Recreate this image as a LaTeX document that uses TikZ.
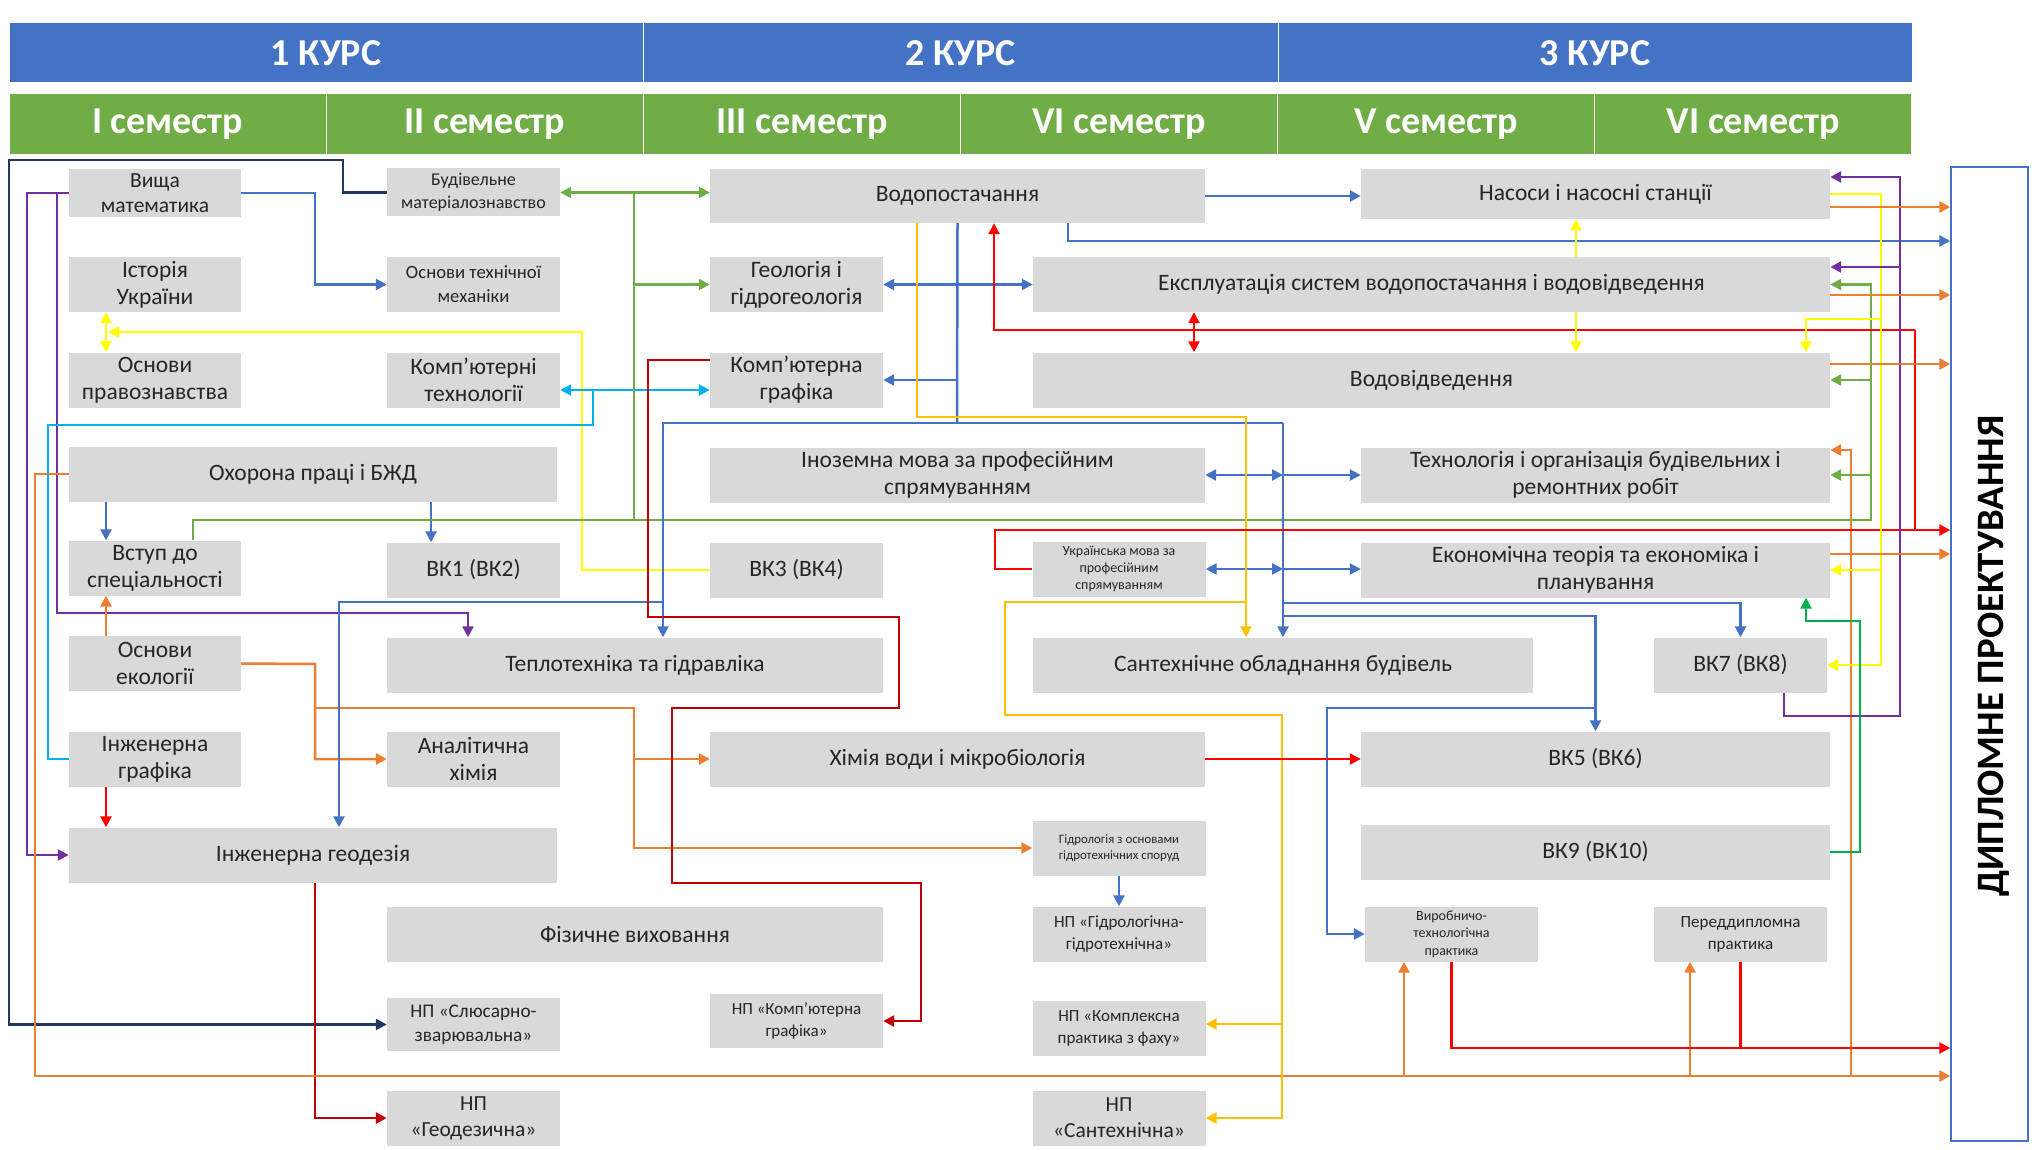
\documentclass[tikz,border=0pt]{standalone}
\usepackage{fontspec}
\setmainfont{Carlito}
\usetikzlibrary{arrows.meta}

\definecolor{cblue}{HTML}{4472C4}
\definecolor{cnavy}{HTML}{1F3864}
\definecolor{cpurple}{HTML}{7030A0}
\definecolor{cgreen}{HTML}{70AD47}
\definecolor{cyellow}{HTML}{FFFF00}
\definecolor{corange}{HTML}{ED7D31}
\definecolor{cred}{HTML}{FF0000}
\definecolor{cdred}{HTML}{C00000}
\definecolor{clblue}{HTML}{00B0F0}
\definecolor{cgold}{HTML}{FFC000}
\definecolor{cbgreen}{HTML}{00B050}
\definecolor{boxgray}{HTML}{D9D9D9}
\definecolor{txt}{HTML}{262626}

\newcommand\fsz[2]{\fontsize{#1}{#2}\selectfont}

\tikzset{
  box/.style={fill=boxgray, text=txt, align=center, inner sep=0pt,
    minimum height=55pt, font=\fsz{23.5}{27}},
  nar/.style={minimum width=173pt},
  kurs/.style={fill=cblue, draw=white, line width=1pt, text=white,
    inner sep=0pt, minimum height=60pt, font=\fsz{38}{42}\bfseries},
  sem/.style={kurs, fill=cgreen, minimum width=317pt, minimum height=61pt},
  con/.style={line width=2.5pt},
  >={Triangle[length=11pt,width=11pt]}
}

\begin{document}
\begin{tikzpicture}[x=1pt,y=-1pt]
\useasboundingbox (0,0) rectangle (2042,1150);

% header
\node[kurs, minimum width=634pt] (k1) at (326,53) {1 КУРС};
\node[kurs, minimum width=635pt] (k2) at (960.5,53) {2 КУРС};
\node[kurs, minimum width=634pt] (k3) at (1595,53) {3 КУРС};
\foreach \s [count=\i] in {I семестр, II семестр, III семестр, VI семестр, V семестр, VI семестр}
  \node[sem] (s\i) at ({9+317.17*\i-158.58},124.5) {\s};

% I semester
\node[box, minimum width=172pt, minimum height=48pt, font=\fsz{21.5}{25}] (vm) at (155,193) {Вища\\математика};
\node[box, minimum width=172pt] (iu) at (155,284.5) {Історія\\України};
\node[box, minimum width=172pt] (op) at (155,380) {Основи\\правознавства};
\node[box, minimum width=488pt] (ohp) at (313,474) {Охорона праці і БЖД};
\node[box, minimum width=172pt] (vs) at (155,568) {Вступ до\\спеціальності};
\node[box, minimum width=172pt] (oe) at (155,663.5) {Основи\\екології};
\node[box, minimum width=172pt] (ig) at (155,759) {Інженерна\\графіка};
\node[box, minimum width=488pt] (igeo) at (313,855) {Інженерна геодезія};

% II semester
\node[box, nar, minimum height=48pt, font=\fsz{18}{23}] (bm) at (473.5,192.5) {Будівельне\\матеріалознавство};
\node[box, nar, font=\fsz{18.7}{24}] (otm) at (473.5,284.5) {Основи технічної\\механіки};
\node[box, nar] (kt) at (473.5,380) {Комп’ютерні\\технології};
\node[box, nar] (vk1) at (473.5,570) {ВК1 (ВК2)};
\node[box, minimum width=496pt] (tg) at (635,665) {Теплотехніка та гідравліка};
\node[box, nar] (ah) at (473.5,759) {Аналітична\\хімія};
\node[box, minimum width=496pt] (fv) at (635,934) {Фізичне виховання};
\node[box, nar, minimum height=53pt, font=\fsz{19.3}{24}] (nps) at (473.5,1024.5) {НП «Слюсарно-\\зварювальна»};
\node[box, nar, font=\fsz{21.5}{26}] (npg) at (473.5,1118) {НП\\«Геодезична»};

% III semester
\node[box, minimum width=495pt, minimum height=54pt] (vp) at (957.5,196) {Водопостачання};
\node[box, nar] (gg) at (796.5,284.5) {Геологія і\\гідрогеологія};
\node[box, nar] (kg) at (796.5,380) {Комп’ютерна\\графіка};
\node[box, minimum width=495pt] (im) at (957.5,475) {Іноземна мова за професійним\\спрямуванням};
\node[box, nar] (vk3) at (796.5,570) {ВК3 (ВК4)};
\node[box, minimum width=495pt] (hv) at (957.5,759) {Хімія води і мікробіологія};
\node[box, nar, minimum height=54pt, font=\fsz{17}{22}] (npkg) at (796.5,1021) {НП «Комп’ютерна\\графіка»};

% IV semester
\node[box, minimum width=797pt] (es) at (1431.5,284.5) {Експлуатація систем водопостачання і водовідведення};
\node[box, minimum width=797pt] (vv) at (1431.5,380) {Водовідведення};
\node[box, nar, font=\fsz{14}{17}] (um) at (1119,569) {Українська мова за\\професійним\\спрямуванням};
\node[box, nar, font=\fsz{12.8}{16}] (gid) at (1119,848) {Гідрологія з основами\\гідротехнічних споруд};
\node[box, minimum width=500pt] (so) at (1283,665) {Сантехнічне обладнання будівель};
\node[box, nar, font=\fsz{17}{22}] (npgg) at (1119,934) {НП «Гідрологічна-\\гідротехнічна»};
\node[box, nar, font=\fsz{17}{22}] (npkp) at (1119,1028) {НП «Комплексна\\практика з фаху»};
\node[box, nar, font=\fsz{21.5}{26}] (npsan) at (1119,1118) {НП\\«Сантехнічна»};

% V-VI semester
\node[box, minimum width=469pt, minimum height=50pt] (ns) at (1595.5,194) {Насоси і насосні станції};
\node[box, minimum width=469pt] (to) at (1595.5,475) {Технологія і організація будівельних і\\ремонтних робіт};
\node[box, minimum width=469pt] (et) at (1595.5,570) {Економічна теорія та економіка і\\планування};
\node[box, nar] (vk7) at (1740.5,665) {ВК7 (ВК8)};
\node[box, minimum width=469pt] (vk5) at (1595.5,759) {ВК5 (ВК6)};
\node[box, minimum width=469pt] (vk9) at (1595.5,852) {ВК9 (ВК10)};
\node[box, nar, font=\fsz{14}{17.5}] (vtp) at (1451.5,934) {Виробничо-\\технологічна\\практика};
\node[box, nar, font=\fsz{17}{22}] (pdp) at (1740.5,934) {Переддипломна\\практика};

\node[draw=cblue, line width=1.5pt, inner sep=0pt, minimum width=77pt, minimum height=974pt] (dp) at (1989.5,654) {};
\node[rotate=90, font=\fsz{38.8}{44}\bfseries] (dpt) at (1994,656) {ДИПЛОМНЕ ПРОЕКТУВАННЯ};

% connectors, left part
\draw[con,->,cnavy] (bm.west) -- (343,192.5) |- (9,160) |- (nps.west);
\draw[con,->,cpurple] (vm.west) -- (27,193) |- (igeo.west);
\draw[con,->,cpurple] (57,193) |- (468,613) -- (tg.north -| 468,0);
\draw[con,->,cblue] (vm.east) -- (315,193) |- (otm.west);
\draw[con,<->,cyellow] (iu.south -| 106,0) -- (op.north -| 106,0);
\draw[con,->,cyellow] (vk3.west) -| (582,332) -- (108,332);
\draw[con,<->,clblue] ([yshift=-10pt]kt.east) -- ([yshift=-10pt]kg.west);
\draw[con,clblue] (ig.west) -- (48,759) |- (593,425) -- (593,390);
\draw[con,->,cblue] (ohp.south -| 106,0) -- (vs.north -| 106,0);
\draw[con,->,cblue] (ohp.south -| 431,0) -- (vk1.north -| 431,0);
\draw[con,->,corange] (oe.north -| 106,0) -- (vs.south -| 106,0);
\draw[con,->,corange] (oe.east) -- (315,664) |- (ah.west);
\draw[con,->,corange] (315,708) -- (634,708) |- (gid.west);
\draw[con,->,corange] (634,759) -- (hv.west);
\draw[con,->,cred] (ig.south -| 106,0) -- (igeo.north -| 106,0);
\draw[con,->,cdred] (igeo.south -| 315,0) |- (npg.west);
\draw[con,->,corange] (ohp.west) -- (35,474) |- (dp.west |- 0,1076);
\draw[con,->,corange] (1404,1076) -- (vtp.south -| 1404,0);
\draw[con,->,corange] (1690,1076) -- (pdp.south -| 1690,0);
\draw[con,->,corange] (1851,1076) -- (1851,450) -- (to.east |- 0,450);

% green net
\draw[con,->,cgreen] (vs.north -| 193,0) |- (1871,520) |- (es.east);
\draw[con,->,cgreen] (1871,380) -- (vv.east);
\draw[con,->,cgreen] (1871,475) -- (to.east);
\draw[con,<->,cgreen] (bm.east) -- (bm.east -| vp.west);
\draw[con,cgreen] (634,520) -- (634,193);
\draw[con,->,cgreen] (634,284.5) -- (gg.west);

% from Vodopostachannia
\draw[con,->,cblue] (vp.east) -- (ns.west |- vp.east);
\draw[con,->,cblue] (vp.south -| 1068,0) |- (dp.west |- 0,241);
\draw[con,cblue] (vp.south) -- (957,423);
\draw[con,->,cblue] (957,380) -- (kg.east);
\draw[con,->,cblue] (1283,423) -- (663,423) -- (tg.north -| 663,0);
\draw[con,->,cblue] (1283,423) -- (so.north);
\draw[con,->,cblue] (663,602) -| (igeo.north -| 339,0);
\draw[con,<->,cblue] (gg.east) -- (es.west);
\draw[con,<->,cblue] (im.east) -- (1283,475);
\draw[con,->,cblue] (1283,475) -- (to.west);
\draw[con,<->,cblue] (um.east) -- (1283,569);
\draw[con,->,cblue] (1283,569) -- (et.west |- um.east);
\draw[con,->,cblue] (1283,603) -| (vk7.north);
\draw[con,->,cblue] (1283,616) -| (vk5.north);
\draw[con,->,cblue] (1595.5,708) -- (1327,708) |- (vtp.west);
\draw[con,->,cblue] (gid.south) -- (npgg.north);
\draw[con,->,cgold] (vp.south -| 917,0) |- (1246,417) -- (so.north -| 1246,0);
\draw[con,->,cgold] (1246,602) -- (1005,602) -- (1005,715) -- (1282,715) |- (npsan.east);
\draw[con,->,cgold] (1282,1024) -- (npkp.east |- 0,1024);
\draw[con,->,cred] (1915,330) -| (vp.south -| 994,0);
\draw[con,cred] (1915,330) -- (1915,530);
\draw[con,->,cred] (um.west) -| (995,530) -- (dp.west |- 0,530);
\draw[con,<->,cred] (es.south -| 1194,0) -- (vv.north -| 1194,0);
\draw[con,->,cdred] (kg.west |- 0,360) -- (648,360) |- (899,617) |- (672,708) |- (921,883) |- (npkg.east |- 0,1021);
\draw[con,->,cred] (hv.east) -- (vk5.west);

% right part
\draw[con,->,cyellow] (ns.east) -| (1881,665) -- (vk7.east);
\draw[con,->,cyellow] (1881,570) -- (et.east);
\draw[con,->,cyellow] (1881,319) -| (vv.north -| 1806,0);
\draw[con,->,cyellow] (es.north -| 1576,0) -- (ns.south -| 1576,0);
\draw[con,->,cyellow] (es.south -| 1576,0) -- (vv.north -| 1576,0);
\draw[con,->,cpurple] (vk7.south -| 1784,0) |- (1900,716) |- (ns.east |- 0,177);
\draw[con,->,cpurple] (1900,267) -- (es.east |- 0,267);
\draw[con,->,corange] (ns.east |- 0,207) -- (dp.west |- 0,207);
\draw[con,->,corange] (es.east |- 0,295) -- (dp.west |- 0,295);
\draw[con,->,corange] (vv.east |- 0,364) -- (dp.west |- 0,364);
\draw[con,->,corange] (et.east |- 0,554) -- (dp.west |- 0,554);
\draw[con,->,cred] (vtp.south) |- (dp.west |- 0,1048);
\draw[con,cred] (pdp.south) -- (pdp.south |- 0,1048);
\draw[con,->,cbgreen] (vk9.east) -| (1860,621) -| (et.south -| 1806,0);
\end{tikzpicture}
\end{document}
